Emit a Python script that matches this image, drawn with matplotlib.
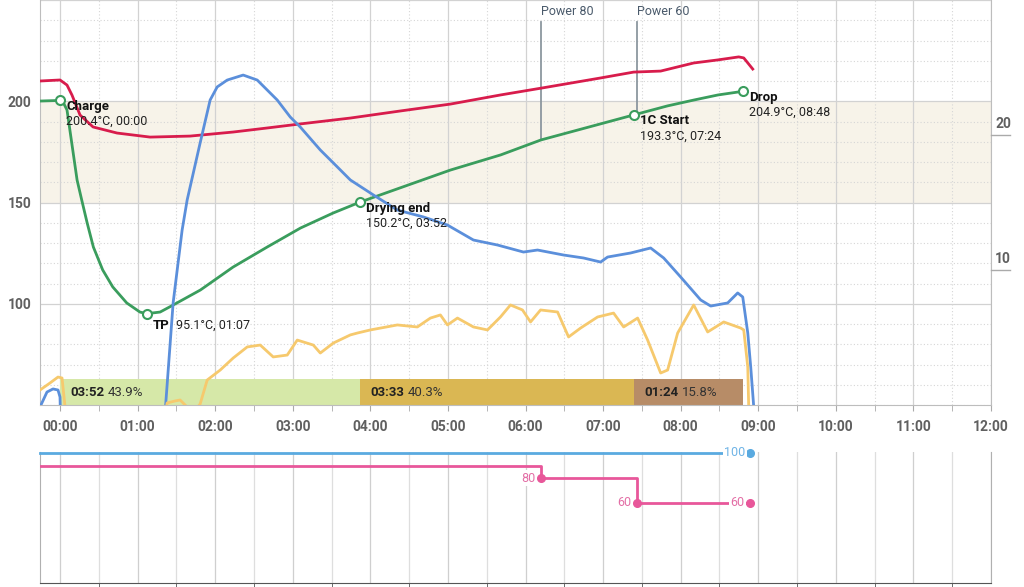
import matplotlib.pyplot as plt
from matplotlib.transforms import blended_transform_factory
from matplotlib.ticker import MultipleLocator

plt.rcParams['font.family'] = ['Roboto', 'DejaVu Sans']

# environment temperature (red), minutes / degC
et_t = [-0.258, 0, 0.09, 0.155, 0.258, 0.426, 0.735, 1.161, 1.677, 2.232, 2.671, 3.097, 3.742,
        4.387, 5.032, 5.677, 6.206, 6.968, 7.394, 7.742, 8.168, 8.477, 8.748, 8.813, 8.929]
et_v = [210.0, 210.5, 208.0, 203.0, 193.2, 187.3, 184.3, 182.3, 182.8, 184.8, 186.8, 188.8, 191.7,
        195.2, 198.6, 203.1, 206.5, 211.5, 214.4, 214.9, 218.9, 220.4, 221.9, 221.4, 215.9]

# bean temperature (green)
bt_t = [-0.258, 0, 0.039, 0.09, 0.22, 0.28, 0.35, 0.43, 0.55, 0.68, 0.86, 1.03, 1.117, 1.29, 1.46,
        1.81, 2.23, 2.67, 3.10, 3.52, 3.867, 5.03, 5.68, 6.2, 7.4, 7.83, 8.17, 8.48, 8.8]
bt_v = [200.1, 200.4, 199.6, 195.7, 161.1, 151.2, 139.9, 128.0, 116.7, 108.3, 100.4, 95.9, 95.1, 95.9, 99.4,
        106.8, 118.1, 128.0, 137.4, 144.8, 150.2, 166.0, 173.5, 180.9, 193.3, 197.7, 200.6, 203.1, 204.9]

# rate of rise (blue), right axis
ror_t = [-0.258, -0.168, -0.09, -0.026, 0, 0.026, 1.29, 1.458, 1.574, 1.639, 1.806, 1.935, 2.026, 2.155,
         2.361, 2.542, 2.671, 2.8, 2.968, 3.097, 3.355, 3.523, 3.742, 4.039, 4.348, 4.684, 4.994, 5.329,
         5.639, 5.974, 6.155, 6.490, 6.748, 6.968, 7.058, 7.355, 7.613, 7.781, 8.0, 8.258, 8.387, 8.606,
         8.735, 8.8, 8.865, 8.903, 8.942]
ror_v = [-0.15, 0.96, 1.19, 1.11, 0.59, -5.6, -5.6, 7.56, 12.96, 15.19, 19.41, 22.59, 23.56, 24.07,
         24.44, 24.07, 23.33, 22.59, 21.33, 20.59, 18.89, 17.93, 16.67, 15.56, 14.44, 13.93, 13.33, 12.22,
         11.85, 11.33, 11.48, 11.11, 10.89, 10.59, 10.96, 11.26, 11.63, 10.89, 9.48, 7.78, 7.33, 7.56,
         8.30, 8.0, 5.33, 2.81, -0.15]

# second right-axis series (orange)
ex_t = [-0.258, -0.129, -0.026, 0.026, 0.065, 0.103, 1.29, 1.381, 1.484, 1.548, 1.639, 1.742, 1.806,
        1.897, 2.065, 2.232, 2.413, 2.581, 2.748, 2.929, 3.058, 3.265, 3.355, 3.523, 3.742, 3.832, 4.0,
        4.348, 4.606, 4.774, 4.903, 4.994, 5.123, 5.329, 5.510, 5.677, 5.806, 5.961, 6.065, 6.194, 6.413,
        6.555, 6.710, 6.929, 7.135, 7.265, 7.445, 7.574, 7.742, 7.832, 7.961, 8.168, 8.348, 8.555, 8.774,
        8.813, 8.865, 8.877, 8.9]
ex_v = [1.11, 1.63, 2.07, 2.0, -0.15, -2.6, -2.6, 0.15, 0.30, 0.37, -0.15, -0.37, 0.07,
        1.85, 2.59, 3.48, 4.30, 4.44, 3.56, 3.70, 4.81, 4.44, 3.85, 4.59, 5.19, 5.33, 5.56,
        5.93, 5.78, 6.44, 6.67, 5.93, 6.44, 5.78, 5.56, 6.52, 7.41, 7.04, 6.15, 7.04, 6.89,
        5.04, 5.70, 6.52, 6.81, 5.78, 6.44, 4.81, 2.37, 2.59, 5.33, 7.41, 5.41, 6.15, 5.70,
        5.56, 2.81, -0.15, -2.6]

# roast events
ev_names = ['Charge', 'TP', 'Drying end', '1C Start', 'Drop']
ev_t = [0, 67 / 60, 232 / 60, 444 / 60, 528 / 60]
ev_v = [200.4, 95.1, 150.2, 193.3, 204.9]
ev_lbl = ['200.4°C, 00:00', '95.1°C, 01:07', '150.2°C, 03:52', '193.3°C, 07:24', '204.9°C, 08:48']

# phases
ph_start = [0, 232 / 60, 444 / 60]
ph_end = [232 / 60, 444 / 60, 528 / 60]
ph_time = ['03:52', '03:33', '01:24']
ph_pct = ['43.9%', '40.3%', '15.8%']
ph_col = ['#d6e8a8', '#dab753', '#b78c67']

# control changes
pw_evt_t = [6.2, 7.44]
pw_evt_bt = [180.9, 193.8]
pw_evt_lbl = ['Power 80', 'Power 60']
fan_t = [-0.258, 8.9]
fan_v = [100, 100]
power_t = [-0.258, 6.2, 7.44, 8.9]
power_v = [90, 80, 60, 60]

W, H = 1024, 587
fig = plt.figure(figsize=(W / 100, H / 100), dpi=100)
ax = fig.add_axes([40 / W, 182 / H, 951 / W, 405 / H])
ax.set_xlim(-0.258, 12)
ax.set_ylim(50, 250)

ax.axhspan(150, 200, color='#f7f3e9', lw=0, zorder=0)
ax.set_yticks([100, 150, 200, 250])
ax.set_yticklabels(['100', '150', '200', ''])
ax.yaxis.set_minor_locator(MultipleLocator(10))
ax.set_xticks(range(0, 13))
ax.set_xticklabels(['%02d:00' % m for m in range(0, 13)])
ax.xaxis.set_minor_locator(MultipleLocator(0.5))
ax.grid(which='major', color='#d2d2d2', lw=0.9)
ax.grid(which='minor', color='#d6d6d6', lw=0.8, ls=(0, (1, 2)))
ax.set_axisbelow(True)
ax.tick_params(which='major', length=0, labelcolor='#606060', labelsize=10)
ax.tick_params(axis='y', pad=6)
ax.tick_params(axis='x', which='both', length=4, color='#aaaaaa', pad=7)
ax.tick_params(axis='y', which='minor', length=0)
for lbl in ax.get_xticklabels() + ax.get_yticklabels():
    lbl.set_fontweight('bold')
for s in ['left', 'bottom', 'right']:
    ax.spines[s].set_color('#bdbdbd')
ax.spines['top'].set_visible(False)

bx = blended_transform_factory(ax.transData, ax.transAxes)
for s, e, c, tt, pp in zip(ph_start, ph_end, ph_col, ph_time, ph_pct):
    ax.axvspan(s, e, ymin=0, ymax=26 / 405, color=c, lw=0, zorder=1)
    ax.annotate(tt, xy=(s, 13 / 405), xycoords=bx, xytext=(10, 0), textcoords='offset pixels',
                va='center', ha='left', fontsize=9.5, fontweight='bold', color='#222222', zorder=2)
    ax.annotate(pp, xy=(s, 13 / 405), xycoords=bx, xytext=(48, 0), textcoords='offset pixels',
                va='center', ha='left', fontsize=9.5, color='#333333', zorder=2)

ax.plot(et_t, et_v, color='#d81c4c', lw=2, zorder=4)
ax.plot(bt_t, bt_v, color='#3a9d5d', lw=2, zorder=4)

for t, v, lb in zip(pw_evt_t, pw_evt_bt, pw_evt_lbl):
    ax.plot([t, t], [v, 239], color='#8c979f', lw=1.3, zorder=3)
    ax.text(t, 241, lb, ha='left', va='bottom', fontsize=9, color='#4a5a6b')

ax2 = ax.twinx()
ax2.set_ylim(0, 30)
ax2.set_yticks([])
for s in ax2.spines.values():
    s.set_visible(False)
ax2.plot(ror_t, ror_v, color='#5b8fdb', lw=2, zorder=3)
ax2.plot(ex_t, ex_v, color='#f6c96d', lw=2, zorder=3)
yt = ax2.get_yaxis_transform()
for v in [10, 20]:
    ax2.plot([1.0, 1.02], [v, v], color='#aaaaaa', lw=1, transform=yt, clip_on=False)
    ax2.text(1.0126, v + 0.3, str(v), transform=yt, ha='center', va='bottom',
             fontsize=10, fontweight='bold', color='#606060')

ax2.plot(ev_t, ev_v, 'o', ms=6.5, mfc='white', mec='#3a9d5d', mew=1.5, transform=ax.transData, zorder=6)
for name, t, v, lb in zip(ev_names, ev_t, ev_v, ev_lbl):
    if name == 'TP':
        ax2.annotate(name, xy=(t, v), xycoords=ax.transData, xytext=(6, -12), textcoords='offset pixels',
                     ha='left', va='center', fontsize=9.5, fontweight='bold', color='#111111', zorder=7)
        ax2.annotate(lb, xy=(t, v), xycoords=ax.transData, xytext=(29, -12), textcoords='offset pixels',
                     ha='left', va='center', fontsize=9, color='#222222', zorder=7)
    else:
        ax2.annotate(name, xy=(t, v), xycoords=ax.transData, xytext=(6, -6), textcoords='offset pixels',
                     ha='left', va='center', fontsize=9.5, fontweight='bold', color='#111111', zorder=7)
        ax2.annotate(lb, xy=(t, v), xycoords=ax.transData, xytext=(6, -21), textcoords='offset pixels',
                     ha='left', va='center', fontsize=9, color='#222222', zorder=7)

# bottom panel: fan / power
ax3 = fig.add_axes([40 / W, 4 / H, 951 / W, 131 / H])
ax3.set_xlim(-0.258, 12)
ax3.set_ylim(-4, 100.8)
ax3.set_xticks(range(0, 13))
ax3.xaxis.set_minor_locator(MultipleLocator(0.5))
ax3.set_yticks([])
ax3.grid(axis='x', which='major', color='#cfcfcf', lw=0.9)
ax3.grid(axis='x', which='minor', color='#dedede', lw=0.9)
ax3.tick_params(axis='x', which='major', length=0, labelbottom=False)
ax3.tick_params(axis='x', which='minor', length=4, color='#555555')
ax3.spines['top'].set_visible(False)
ax3.spines['left'].set_color('#b0b0b0')
ax3.spines['right'].set_color('#b0b0b0')
ax3.spines['bottom'].set_color('#555555')

ax3.plot(fan_t, fan_v, color='#5aaae0', lw=2, clip_on=False, zorder=3)
ax3.plot(fan_t[-1], fan_v[-1], 'o', color='#5aaae0', ms=5.5, clip_on=False, zorder=4)
ax3.annotate(str(fan_v[-1]), xy=(fan_t[-1], fan_v[-1]), xytext=(-5, 0), textcoords='offset pixels',
             ha='right', va='center', fontsize=9, color='#6fb4e6', zorder=5, annotation_clip=False,
             bbox=dict(boxstyle='square,pad=0.1', fc='white', ec='none'))
ax3.plot(power_t, power_v, color='#e8579a', lw=2, drawstyle='steps-post', zorder=3)
ax3.plot(power_t[1:], power_v[1:], 'o', color='#e8579a', ms=5.5, zorder=4)
for t, v in zip(power_t[1:], power_v[1:]):
    ax3.annotate(str(v), xy=(t, v), xytext=(-6, 0), textcoords='offset pixels',
                 ha='right', va='center', fontsize=9, color='#e36fa6', zorder=5,
                 bbox=dict(boxstyle='square,pad=0.1', fc='white', ec='none'))

fig.savefig('out.png', dpi=100)
